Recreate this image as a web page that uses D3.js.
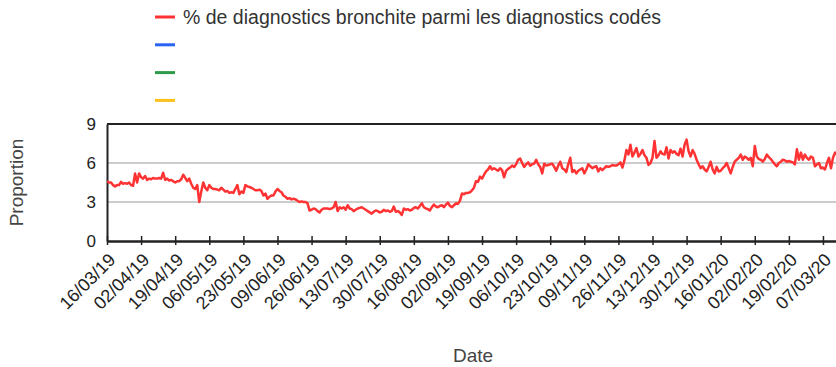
<!DOCTYPE html>
<html>
<head>
<meta charset="utf-8">
<script src="https://cdn.jsdelivr.net/npm/d3@7/dist/d3.min.js"></script>
<style>
  body { margin: 0; background: #fff; }
  svg { display: block; font-family: "Liberation Sans", Arial, sans-serif; }
</style>
</head>
<body>
<svg id="chart" width="836" height="367"></svg>
<script>
// Daily share of bronchitis among coded diagnoses, starting 16/03/2019
const startDate = "2019-03-16";
const bronchite = [
  4.6, 4.5, 4.5, 4.3, 4.2, 4.3, 4.3, 4.55, 4.4, 4.45,
  4.4, 4.5, 4.3, 4.25, 5.2, 4.5, 5.2, 4.9, 4.8, 5.0,
  4.7, 4.8, 4.75, 4.85, 4.8, 4.8, 4.85, 4.8, 5.25, 4.7,
  4.8, 4.65, 4.7, 4.6, 4.5, 4.6, 4.6, 4.75, 5.1, 4.85,
  4.6, 4.8, 4.4, 4.1, 4.0, 4.3, 3.0, 3.8, 4.5, 4.1,
  3.9, 4.3, 4.1, 4.0, 4.0, 3.95, 3.9, 4.1, 3.95, 3.8,
  3.85, 3.7, 3.75, 3.7, 4.0, 4.3, 3.6, 3.8, 3.7, 4.3,
  4.2, 4.15, 4.1, 4.0, 3.9, 3.9, 3.95, 3.85, 3.5, 3.65,
  3.25, 3.4, 3.5, 3.5, 3.8, 4.0, 3.85, 3.75, 3.5, 3.4,
  3.25, 3.3, 3.2, 3.25, 3.2, 3.1, 3.0, 3.05, 3.0, 3.0,
  2.9, 2.35, 2.4, 2.5, 2.45, 2.3, 2.2, 2.4, 2.5, 2.5,
  2.5, 2.45, 2.5, 2.6, 3.0, 2.3, 2.6, 2.5, 2.6, 2.4,
  2.75, 2.5, 2.45, 2.3, 2.4, 2.5, 2.55, 2.6, 2.5, 2.4,
  2.3, 2.2, 2.1, 2.25, 2.35, 2.3, 2.2, 2.25, 2.4, 2.3,
  2.35, 2.25, 2.3, 2.65, 2.25, 2.3, 2.2, 2.0, 2.5, 2.4,
  2.45, 2.35, 2.4, 2.55, 2.6, 2.5, 2.7, 2.9, 2.6, 2.5,
  2.45, 2.35, 2.6, 2.8, 2.65, 2.6, 2.7, 2.75, 2.6, 2.8,
  2.95, 2.7, 2.6, 2.75, 2.9, 2.85, 3.1, 3.65, 3.6, 3.7,
  3.7, 3.75, 3.9, 4.1, 4.6, 4.55, 4.95, 4.8, 5.1, 5.35,
  5.5, 5.75, 5.5, 5.6, 5.5, 5.4, 5.6, 5.45, 4.9, 5.4,
  5.55, 5.65, 5.8, 5.7, 5.9, 6.25, 6.35, 6.0, 5.7, 5.9,
  6.05, 5.8, 5.9, 5.95, 6.25, 5.9, 5.7, 5.2, 5.95, 5.8,
  5.85, 5.9, 5.95, 5.7, 5.4, 5.8, 6.1, 5.6, 5.5, 5.3,
  5.9, 6.4, 5.3, 5.45, 5.2, 5.4, 5.5, 5.6, 5.2, 5.5,
  5.9, 5.75, 5.6, 5.7, 5.75, 5.35, 5.6, 5.45, 5.6, 5.75,
  5.7, 5.75, 5.85, 5.8, 5.8, 5.9, 6.05, 5.65, 6.2, 7.0,
  6.65, 7.4, 6.5, 6.8, 7.15, 6.5, 6.7, 7.0, 6.6, 6.4,
  5.85, 6.0, 6.4, 7.7, 6.4, 6.6, 6.9, 6.7, 6.65, 7.2,
  6.35, 7.0, 6.8, 6.9, 6.7, 6.6, 7.1, 6.5, 7.4, 7.8,
  6.9, 6.5, 7.0, 6.7, 6.25, 5.9, 5.6, 5.75, 5.5, 5.35,
  5.7, 6.1, 5.5, 5.2, 5.7, 5.35, 5.4, 5.6, 5.75, 6.0,
  5.6, 5.2, 5.7, 6.1, 6.25, 6.4, 6.65, 6.25, 6.5, 6.4,
  6.25, 6.4, 5.75, 7.3, 6.5, 6.3, 6.25, 6.1, 6.3, 6.65,
  6.45, 6.3, 6.1, 5.9, 5.75, 6.0, 6.1, 6.25, 6.2, 6.1,
  6.15, 6.1, 6.05, 5.9, 7.05, 6.25, 6.8, 6.25, 6.65, 6.4,
  6.25, 6.5, 6.4, 5.75, 5.9, 6.0, 5.6, 5.65, 5.5, 6.0,
  6.4, 5.6, 6.4, 6.8, 6.65
];
const yTicks = [0, 3, 6, 9];
const xTickLabels = [
  "16/03/19", "02/04/19", "19/04/19", "06/05/19", "23/05/19", "09/06/19",
  "26/06/19", "13/07/19", "30/07/19", "16/08/19", "02/09/19", "19/09/19",
  "06/10/19", "23/10/19", "09/11/19", "26/11/19", "13/12/19", "30/12/19",
  "16/01/20", "02/02/20", "19/02/20", "07/03/20"
];
const legendLabels = ["% de diagnostics bronchite parmi les diagnostics codés", "", "", ""];
const legendColors = ["#ff3333", "#2962f5", "#2e9b4a", "#fbc11a"];

const parseDay = d3.timeParse("%Y-%m-%d");
const parseTick = d3.timeParse("%d/%m/%y");
const day0 = parseDay(startDate);
const series = bronchite.map((v, i) => ({ date: d3.timeDay.offset(day0, i), value: v }));

const svg = d3.select("#chart");
const plotLeft = 107, plotRight = 837, plotTop = 124, plotBottom = 241;

const x = d3.scaleTime()
  .domain([day0, d3.timeDay.offset(day0, bronchite.length - 1)])
  .range([plotLeft, plotRight]);
const y = d3.scaleLinear().domain([0, 9]).range([plotBottom, plotTop]);

// horizontal gridlines
svg.append("g")
  .selectAll("line")
  .data(yTicks.filter(t => t > 0 && t < 9))
  .join("line")
  .attr("x1", plotLeft).attr("x2", 836)
  .attr("y1", d => y(d)).attr("y2", d => y(d))
  .attr("stroke", "#cccccc").attr("stroke-width", 2);

// top frame line at the axis maximum
svg.append("line")
  .attr("x1", plotLeft).attr("x2", 836)
  .attr("y1", y(9)).attr("y2", y(9))
  .attr("stroke", "#222").attr("stroke-width", 2);

// y axis
const yAxis = svg.append("g")
  .attr("transform", `translate(${plotLeft},0)`)
  .call(d3.axisLeft(y).tickValues(yTicks).tickSize(0).tickPadding(11));
yAxis.select(".domain").attr("stroke", "#222").attr("stroke-width", 2);
yAxis.selectAll("text")
  .attr("font-size", 17).attr("fill", "#222")
  .attr("font-family", "Liberation Sans, Arial, sans-serif");

// line
svg.append("clipPath").attr("id", "plotclip")
  .append("rect").attr("x", plotLeft).attr("y", 0)
  .attr("width", 836 - plotLeft).attr("height", plotBottom);
svg.append("path")
  .datum(series)
  .attr("clip-path", "url(#plotclip)")
  .attr("fill", "none")
  .attr("stroke", legendColors[0])
  .attr("stroke-width", 2.5)
  .attr("stroke-linejoin", "round")
  .attr("d", d3.line().x(d => x(d.date)).y(d => y(d.value)));

// x axis
const tickDates = xTickLabels.map(parseTick);
const xAxis = svg.append("g")
  .attr("transform", `translate(0,${plotBottom})`)
  .call(d3.axisBottom(x).tickValues(tickDates).tickSizeInner(0).tickSizeOuter(0)
    .tickFormat((d, i) => xTickLabels[i]));
xAxis.select(".domain").attr("stroke", "#222").attr("stroke-width", 2.5);
xAxis.selectAll(".tick line").remove();
xAxis.selectAll(".tick").append("line")
  .attr("y1", -5).attr("y2", 4)
  .attr("stroke", "#222").attr("stroke-width", 1.5);
xAxis.selectAll(".tick text")
  .attr("font-size", 18).attr("fill", "#222")
  .attr("font-family", "Liberation Sans, Arial, sans-serif")
  .attr("text-anchor", "end")
  .attr("x", 0).attr("y", 0).attr("dy", 0)
  .attr("transform", "translate(9,20) rotate(-45)");

// axis titles
svg.append("text")
  .attr("transform", `translate(23,${(plotTop + plotBottom) / 2}) rotate(-90)`)
  .attr("text-anchor", "middle")
  .attr("font-size", 19).attr("fill", "#444")
  .text("Proportion");
svg.append("text")
  .attr("x", 473).attr("y", 362)
  .attr("text-anchor", "middle")
  .attr("font-size", 19).attr("fill", "#444")
  .text("Date");

// legend
const legend = svg.append("g").selectAll("g")
  .data(legendLabels)
  .join("g")
  .attr("transform", (d, i) => `translate(155,${17 + i * 27.8})`);
legend.append("line")
  .attr("x1", 0).attr("x2", 20)
  .attr("stroke", (d, i) => legendColors[i]).attr("stroke-width", 3);
legend.append("text")
  .attr("x", 28).attr("y", 0).attr("dy", "0.35em")
  .attr("font-size", 19.5).attr("fill", "#333")
  .text(d => d);
</script>
</body>
</html>
